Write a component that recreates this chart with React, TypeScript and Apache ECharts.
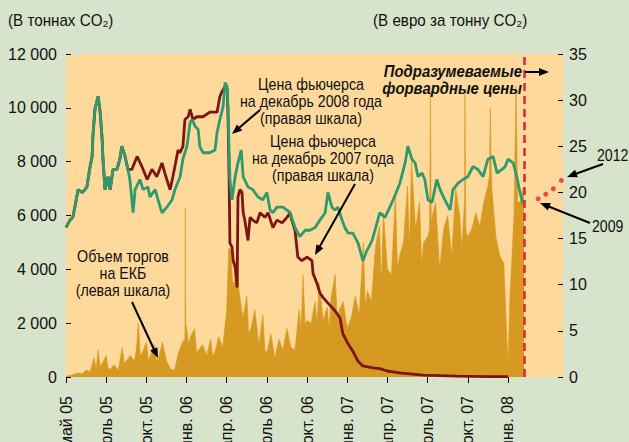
import React, { useEffect, useRef } from 'react';
import * as echarts from 'echarts';

// X axis: one unit = one labelled tick
const tickLabels = ['май 05', 'июль 05', 'окт. 05', 'янв. 06', 'апр. 06', 'июль 06', 'окт. 06', 'янв. 07', 'апр. 07', 'июль 07', 'окт. 07', 'янв. 08'];
const tickPositions = [0, 1, 2, 3, 4, 5, 6, 7, 8, 9, 10, 11];

// Futures price, December 2008 (EUR / t CO2, right scale)
const dec2008Price: number[][] = [
  [0, 16.2], [0.1, 17.0], [0.17, 17.3], [0.22, 18.4], [0.3, 20.3], [0.4, 20.0], [0.47, 20.3], [0.52, 20.6],
  [0.6, 22.8], [0.65, 23.9], [0.67, 26.1], [0.72, 29.0], [0.8, 30.4], [0.85, 28.7], [0.9, 25.7], [0.92, 23.6],
  [0.97, 20.3], [1.05, 21.7], [1.1, 20.3], [1.17, 22.5], [1.27, 22.5], [1.34, 23.6], [1.39, 25.0], [1.47, 23.9],
  [1.54, 22.5], [1.59, 21.4], [1.67, 17.8], [1.72, 20.3], [1.84, 21.4], [1.92, 20.3], [2.04, 20.6], [2.09, 19.5],
  [2.22, 20.3], [2.29, 19.2], [2.39, 17.8], [2.51, 18.4], [2.64, 19.2], [2.71, 20.3], [2.84, 21.7], [2.91, 23.6],
  [3.01, 25.0], [3.09, 27.6], [3.14, 27.9], [3.21, 27.2], [3.29, 26.8], [3.33, 25.0], [3.41, 24.3], [3.58, 24.3],
  [3.71, 24.6], [3.76, 26.5], [3.83, 27.9], [3.91, 29.3], [3.96, 31.9], [4.01, 31.5], [4.03, 29.3], [4.08, 21.4],
  [4.13, 19.2], [4.21, 21.7], [4.28, 23.2], [4.36, 24.6], [4.41, 21.7], [4.53, 20.6], [4.65, 20.3], [4.78, 19.5],
  [4.9, 19.2], [5.0, 20.0], [5.08, 18.1], [5.15, 17.8], [5.25, 18.4], [5.4, 18.4], [5.58, 17.8], [5.7, 16.2],
  [5.82, 15.2], [5.95, 15.9], [6.07, 15.9], [6.2, 16.2], [6.32, 17.0], [6.45, 17.8], [6.52, 20.0], [6.62, 18.4],
  [6.69, 18.1], [6.77, 18.4], [6.87, 17.0], [6.94, 16.2], [7.02, 15.6], [7.14, 15.6], [7.27, 14.5], [7.39, 12.6],
  [7.49, 13.7], [7.62, 14.8], [7.74, 16.7], [7.81, 17.8], [7.94, 17.3], [8.06, 18.4], [8.19, 19.7], [8.31, 21.0],
  [8.44, 23.2], [8.51, 25.0], [8.61, 23.6], [8.69, 23.2], [8.76, 21.7], [8.86, 22.1], [8.93, 21.4], [9.01, 19.2],
  [9.11, 18.9], [9.23, 21.4], [9.31, 20.3], [9.43, 19.2], [9.56, 18.1], [9.63, 20.3], [9.76, 21.0], [9.88, 21.4],
  [10.0, 21.7], [10.13, 22.8], [10.25, 22.5], [10.38, 21.7], [10.5, 23.6], [10.63, 23.9], [10.73, 22.1], [10.85, 22.5],
  [10.93, 22.8], [11.0, 23.6], [11.13, 23.2], [11.22, 21.7], [11.3, 20.0], [11.37, 18.8],
];

// Futures price, December 2007 (EUR / t CO2, right scale)
const dec2007Price: number[][] = [
  [0, 16.2], [0.1, 17.0], [0.17, 17.3], [0.22, 18.4], [0.3, 20.3], [0.4, 20.0], [0.47, 20.3], [0.52, 20.6],
  [0.6, 22.8], [0.65, 23.9], [0.67, 26.1], [0.72, 29.0], [0.8, 30.4], [0.85, 28.7], [0.9, 25.7], [0.92, 23.6],
  [0.97, 20.3], [1.05, 21.7], [1.1, 20.3], [1.17, 22.5], [1.27, 22.5], [1.34, 23.6], [1.39, 25.0], [1.47, 23.9],
  [1.54, 22.5], [1.64, 22.5], [1.77, 23.9], [1.89, 22.8], [2.02, 21.4], [2.14, 22.5], [2.26, 21.7], [2.39, 23.2],
  [2.46, 22.1], [2.59, 20.3], [2.66, 21.7], [2.71, 22.8], [2.79, 24.6], [2.84, 24.3], [2.91, 25.0], [2.96, 27.9],
  [3.04, 28.2], [3.09, 29.0], [3.16, 27.9], [3.26, 28.2], [3.41, 28.2], [3.58, 28.7], [3.76, 28.7], [3.83, 30.4],
  [3.88, 30.9], [3.96, 31.5], [4.01, 31.2], [4.03, 29.0], [4.06, 21.4], [4.08, 14.5], [4.13, 14.1], [4.16, 12.6],
  [4.21, 11.9], [4.26, 9.7], [4.28, 19.5], [4.33, 20.3], [4.38, 20.0], [4.41, 17.8], [4.45, 17.0], [4.53, 14.8],
  [4.58, 17.3], [4.65, 17.0], [4.75, 16.7], [4.83, 17.8], [4.95, 17.3], [5.03, 17.8], [5.15, 16.2], [5.25, 17.0],
  [5.38, 16.7], [5.5, 17.3], [5.58, 17.8], [5.62, 17.0], [5.7, 15.9], [5.77, 13.0], [5.87, 12.6], [6.0, 13.0],
  [6.12, 12.6], [6.15, 11.2], [6.25, 10.1], [6.32, 9.1], [6.4, 8.6], [6.52, 8.0], [6.69, 7.2], [6.82, 6.4],
  [6.89, 4.7], [7.02, 3.6], [7.14, 2.8], [7.27, 1.7], [7.39, 1.2], [7.64, 1.0], [7.81, 0.9], [7.99, 0.65],
  [8.31, 0.45], [8.89, 0.2], [9.73, 0.1], [10.55, 0.05], [11.0, 0.03],
];

// Trading volume on the ECX (tonnes CO2, left scale)
const eccVolume: number[][] = [
  [0, 30], [0.1, 60], [0.2, 100], [0.3, 150], [0.4, 120], [0.5, 250], [0.6, 200], [0.7, 700], [0.75, 300],
  [0.8, 1000], [0.85, 400], [0.9, 500], [1.0, 800], [1.05, 300], [1.1, 300], [1.2, 450], [1.3, 250], [1.4, 1100],
  [1.45, 500], [1.5, 600], [1.6, 800], [1.7, 600], [1.75, 1000], [1.8, 2000], [1.85, 800], [1.9, 900], [2.0, 1300],
  [2.05, 600], [2.1, 800], [2.2, 1200], [2.25, 600], [2.3, 700], [2.4, 1300], [2.5, 600], [2.6, 300], [2.7, 250],
  [2.8, 900], [2.9, 1300], [2.96, 1400], [2.97, 6300], [2.98, 1500], [3.0, 1900], [3.05, 1200], [3.1, 1500],
  [3.2, 1800], [3.25, 900], [3.3, 1000], [3.4, 1200], [3.5, 800], [3.6, 1400], [3.65, 800], [3.7, 900], [3.8, 1500],
  [3.9, 1100], [4.0, 2500], [4.05, 4800], [4.1, 4700], [4.15, 3500], [4.2, 3500], [4.25, 5000], [4.3, 3300],
  [4.4, 2200], [4.5, 3000], [4.55, 1600], [4.6, 1800], [4.7, 2500], [4.8, 1200], [4.9, 2300], [4.95, 1000],
  [5.0, 900], [5.1, 1600], [5.2, 700], [5.3, 1400], [5.4, 1000], [5.5, 1800], [5.6, 1100], [5.7, 1000], [5.8, 2500],
  [5.85, 1800], [5.9, 3800], [5.95, 2000], [6.0, 2100], [6.1, 2000], [6.2, 2800], [6.25, 2000], [6.3, 3500],
  [6.4, 2100], [6.5, 2600], [6.55, 1800], [6.6, 3000], [6.7, 3800], [6.75, 2200], [6.8, 2500], [6.9, 2800],
  [7.0, 1800], [7.1, 2200], [7.2, 3000], [7.3, 2300], [7.4, 5000], [7.45, 2600], [7.5, 3200], [7.6, 2800],
  [7.7, 4800], [7.8, 5600], [7.85, 3500], [7.9, 6100], [8.0, 4000], [8.1, 3800], [8.2, 6800], [8.25, 4000],
  [8.3, 4500], [8.4, 5000], [8.5, 7100], [8.55, 4800], [8.6, 8000], [8.7, 5500], [8.8, 6500], [8.85, 4200],
  [8.9, 5000], [9.0, 5200], [9.05, 5500], [9.07, 10600], [9.09, 5800], [9.2, 6500], [9.3, 4000], [9.4, 5500],
  [9.5, 6000], [9.6, 4500], [9.7, 7000], [9.8, 6000], [9.85, 4800], [9.92, 6500], [9.93, 10500], [9.95, 5500],
  [10.0, 5200], [10.1, 5500], [10.2, 6100], [10.3, 5600], [10.4, 6500], [10.5, 7100], [10.54, 7500], [10.56, 10000],
  [10.58, 8000], [10.6, 7000], [10.7, 5200], [10.8, 4500], [10.9, 4200], [10.97, 1500], [11.0, 500], [11.05, 3000],
  [11.1, 4500], [11.15, 6000], [11.2, 10800], [11.24, 6500], [11.3, 6500], [11.37, 7000], [11.4, 7000],
];

// Implied forward prices 2009..2012 (right scale)
const forwardPrices: number[][] = [[11.75, 19.3], [11.94, 19.8], [12.13, 20.4], [12.33, 21.3]];
const forwardStart = 11.4;

const FONT = "'Liberation Sans', Arial, sans-serif";
const BG = '#d8e3cb';
const PLOT_BG = '#fed99c';
const OCHRE = '#d69a22';
const GREEN = '#2f9a6c';
const DARKRED = '#7d1416';
const RED = '#e8232d';

function arrow(x1: number, y1: number, x2: number, y2: number, head = 10, w = 8) {
  const dx = x2 - x1, dy = y2 - y1;
  const len = Math.hypot(dx, dy);
  const ux = dx / len, uy = dy / len;
  const bx = x2 - ux * head, by = y2 - uy * head;
  const px = (-uy * w) / 2, py = (ux * w) / 2;
  return [
    { type: 'line', shape: { x1, y1, x2: bx + ux * 2, y2: by + uy * 2 }, style: { stroke: '#000', lineWidth: 2 }, z: 50 },
    { type: 'polygon', shape: { points: [[x2, y2], [bx + px, by + py], [bx - px, by - py]] }, style: { fill: '#000' }, z: 50 },
  ];
}

function txt(text: string, x: number, y: number, sx: number, extra: any = {}) {
  return {
    type: 'text',
    x, y, z: 50, scaleX: sx,
    style: {
      text, fill: '#111', fontSize: 16, fontFamily: FONT, lineHeight: 17,
      align: 'center', verticalAlign: 'middle', ...extra,
    },
  };
}

export default function App() {
  const ref = useRef<HTMLDivElement>(null);
  useEffect(() => {
    if (!ref.current) return;
    const chart = echarts.init(ref.current, undefined, { renderer: 'svg' });
    const option: any = {
      animation: false,
      backgroundColor: BG,
      grid: {
        left: 66, right: 66, top: 54, bottom: 65, show: true, backgroundColor: PLOT_BG, borderWidth: 0,
        containLabel: false, outerBoundsMode: 'none',
      },
      xAxis: {
        type: 'value', min: 0, max: 12.37, interval: 1,
        axisLine: { show: false },
        splitLine: { show: false },
        axisTick: { show: true, customValues: tickPositions, length: 6, lineStyle: { color: '#000', width: 1 } },
        axisLabel: {
          customValues: tickPositions,
          rotate: 90, margin: 19, fontSize: 16, fontFamily: FONT, color: '#111',
          formatter: (v: number) => tickLabels[Math.round(v)] ?? '',
        },
      },
      yAxis: [
        {
          type: 'value', min: 0, max: 12000, interval: 2000,
          axisLine: { show: false }, splitLine: { show: false },
          axisTick: { show: true, inside: true, length: 5, lineStyle: { color: '#000' } },
          axisLabel: {
            margin: 9, fontSize: 16, fontFamily: FONT, color: '#111',
            formatter: (v: number) => String(v).replace(/\B(?=(\d{3})+(?!\d))/g, ' '),
          },
        },
        {
          type: 'value', min: 0, max: 35, interval: 5, position: 'right',
          axisLine: { show: false }, splitLine: { show: false },
          axisTick: { show: true, inside: true, length: 5, lineStyle: { color: '#000' } },
          axisLabel: { margin: 6, fontSize: 16, fontFamily: FONT, color: '#111' },
        },
      ],
      series: [
        {
          name: 'volume', type: 'line', yAxisIndex: 0, data: eccVolume, symbol: 'none', z: 1,
          lineStyle: { width: 0.6, color: OCHRE }, areaStyle: { color: OCHRE, opacity: 1 },
        },
        {
          name: 'dec2007', type: 'line', yAxisIndex: 1, data: dec2007Price, symbol: 'none', z: 3,
          lineStyle: { width: 2.8, color: DARKRED },
        },
        {
          name: 'dec2008', type: 'line', yAxisIndex: 1, data: dec2008Price, symbol: 'none', z: 4,
          lineStyle: { width: 2.8, color: GREEN },
        },
        {
          name: 'forward', type: 'scatter', yAxisIndex: 1, data: forwardPrices, symbolSize: 5, z: 5,
          itemStyle: { color: RED },
          markLine: {
            silent: true, symbol: ['none', 'none'], label: { show: false },
            lineStyle: { color: RED, type: [8, 5], width: 2.5 },
            data: [{ xAxis: forwardStart }],
          },
        },
      ],
      graphic: [
        txt('(В тоннах CO₂)', 8, 20, 0.95, { align: 'left' }),
        txt('(В евро за тонну CO₂)', 373, 20, 0.95, { align: 'left' }),
        txt('Подразумеваемые\nфорвардные цены', 522, 80, 0.93, { align: 'right', fontWeight: 'bold', fontStyle: 'italic' }),
        ...arrow(525, 72, 549, 72, 10, 8),
        txt('Цена фьючерса\nна декабрь 2008 года\n(правая шкала)', 311, 101, 0.89),
        ...arrow(260, 110, 232, 134),
        txt('Цена фьючерса\nна декабрь 2007 года\n(правая шкала)', 323, 158, 0.89),
        ...arrow(355, 184, 315, 255),
        txt('Объем торгов\nна ЕКБ\n(левая шкала)', 123, 273, 0.89),
        ...arrow(132, 302, 158, 358),
        txt('2012', 597, 155, 0.88, { align: 'left' }),
        ...arrow(603, 164, 567, 177),
        txt('2009', 592, 226, 0.88, { align: 'left' }),
        ...arrow(590, 223, 540, 203),
      ],
    };
    chart.setOption(option);
    return () => chart.dispose();
  }, []);
  return <div ref={ref} style={{ position: 'fixed', left: 0, top: 0, width: 629, height: 442 }} />;
}
